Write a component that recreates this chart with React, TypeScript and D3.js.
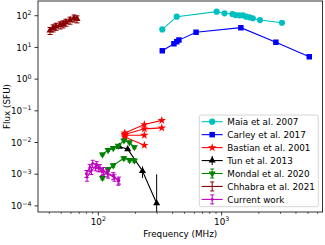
import React from 'react';
import * as d3 from 'd3';

// data
const maiaFreq = [330, 432, 910, 1054, 1221, 1297, 1396, 1485, 1581, 1681, 1787, 2044, 3078];
const maiaFlux = [37, 93, 134, 119, 113, 105, 103, 103, 93, 89, 83, 73, 60];

const carleyFreq = [330, 410, 432, 450, 620, 1430, 2750, 5130];
const carleyFlux = [7.9, 13, 15, 17, 30, 42, 14.5, 5.1];

const bastianFreq = [164, 236, 327];
const bastianA = [0.02, 0.037, 0.05];
const bastianB = [0.018, 0.027, 0.029];
const bastianC = [0.017, 0.017];
const bastianD = [0.015, 0.0082];

const tunFreq = [148, 173, 228, 297];
const tunFlux = [0.0074, 0.0062, 0.00126, 0.000121];
const tunErr = [0.0003, 0.0003, 0.0005, 0.00087];

const mondalFreq = [108, 120, 132, 145, 161, 179, 196];
const mondalHigh = [0.0042, 0.0058, 0.0067, 0.0078, 0.0116, 0.0101, 0.0071];
const mondalLowFreq = [108, 120, 132, 161, 179, 196];
const mondalLow = [0.00076, 0.00143, 0.0019, 0.0032, 0.0028, 0.0027];

const chhabraFreq = [40.6, 43, 45.4, 49, 51.8, 54.7, 59, 63.6, 67.2];
const chhabraFlux = [34, 41, 46, 51, 55, 62, 72, 84, 79];

const curFreqA = [80, 85, 90, 97, 103, 110, 118, 132, 145];
const curFluxA = [0.00105, 0.0016, 0.0022, 0.002, 0.0016, 0.0013, 0.0011, 0.0009, 0.0006];
const curFreqB = [81, 88, 95, 100, 107, 120, 135, 147];
const curFluxB = [0.0008, 0.0013, 0.0017, 0.0016, 0.0012, 0.001, 0.0008, 0.00065];

const xTicks = [100, 1000];
const yTicks = [1e-4, 1e-3, 1e-2, 1e-1, 1, 10, 100];

const legendNames = ['Maia et al. 2007', 'Carley et al. 2017', 'Bastian et al. 2001', 'Tun et al. 2013',
  'Mondal et al. 2020', 'Chhabra et al. 2021', 'Current work'];

const W = 325, H = 245;
const L = 38, R = 322.6, T = 1, B = 212;
const FONT = 'DejaVu Sans, sans-serif';

const x = d3.scaleLog().domain([Math.pow(10, 1.511), Math.pow(10, 3.818)]).range([L, R]);
const y = d3.scaleLog().domain([Math.pow(10, -4.192), Math.pow(10, 2.464)]).range([B, T]);

type Pt = [number, number];
const zip = (a: number[], b: number[]): Pt[] => a.map((v, i) => [v, b[i]]);
const line = d3.line<Pt>().x(d => x(d[0])).y(d => y(d[1]));

const sym = (type: d3.SymbolType, size: number) => d3.symbol().type(type).size(size)() as string;
const circle = sym(d3.symbolCircle, 30);
const square = sym(d3.symbolSquare, 30);
const star = sym(d3.symbolStar, 22);
const tri = sym(d3.symbolTriangle, 22);

const colors = ['#00bfbf', '#0000ff', '#ff0000', '#000000', '#008000', '#8b0000', '#bf00bf'];

function Marker({ kind, cx, cy, color }: { kind: string; cx: number; cy: number; color: string }) {
  if (kind === 'dot') return <circle cx={cx} cy={cy} r={1.3} fill={color} />;
  const d = kind === 'circle' ? circle : kind === 'square' ? square : kind === 'star' ? star : tri;
  const rot = kind === 'tridown' ? 180 : 0;
  return <path d={d} transform={`translate(${cx},${cy}) rotate(${rot})`} fill={color} />;
}

function ErrBar({ f, v, e, color, cap }: { f: number; v: number; e: number; color: string; cap: number }) {
  const lo = Math.max(v - e, 1e-9);
  const cx = x(f);
  return (
    <g stroke={color} strokeWidth={1}>
      <line x1={cx} x2={cx} y1={y(v + e)} y2={y(lo)} />
      {cap > 0 && <line x1={cx - cap} x2={cx + cap} y1={y(v + e)} y2={y(v + e)} />}
      {cap > 0 && <line x1={cx - cap} x2={cx + cap} y1={y(lo)} y2={y(lo)} />}
    </g>
  );
}

function Series({ pts, color, kind, err, cap = 0, width = 1.1 }: { pts: Pt[]; color: string; kind: string; err?: number[]; cap?: number; width?: number }) {
  return (
    <g>
      {err && pts.map((p, i) => <ErrBar key={'e' + i} f={p[0]} v={p[1]} e={err[i]} color={color} cap={cap} />)}
      <path d={line(pts) as string} fill="none" stroke={color} strokeWidth={width} />
      {pts.map((p, i) => <Marker key={i} kind={kind} cx={x(p[0])} cy={y(p[1])} color={color} />)}
    </g>
  );
}

function PowLabel({ v, xx, yy, anchor }: { v: number; xx: number; yy: number; anchor: string }) {
  const e = Math.round(Math.log10(v));
  const s = e < 0 ? '\u2212' + Math.abs(e) : String(e);
  return (
    <text x={xx} y={yy} textAnchor={anchor} fontSize={8.8} fontFamily={FONT} fill="#000">
      10<tspan dy={-3.6} fontSize={6.3}>{s}</tspan>
    </text>
  );
}

export default function App() {
  const minor: number[] = [];
  for (let k = 1; k <= 3; k++) for (let m = 2; m <= 9; m++) {
    const v = m * Math.pow(10, k);
    if (v > x.domain()[0] && v < x.domain()[1]) minor.push(v);
  }
  const bast = [bastianA, bastianB, bastianC, bastianD];
  const legKinds = ['circle', 'square', 'star', 'tri', 'tridown', 'none', 'dot'];
  const legErr = [false, false, false, true, true, true, true];
  const legCap = [0, 0, 0, 0, 2, 2, 2];
  const lx = 199.3, ly = 115, lw = 119, lh = 91.7;

  return (
    <svg width={W} height={H} style={{ position: 'absolute', left: 0, top: 0, background: '#fff' }}>
      <defs>
        <clipPath id="plot"><rect x={L} y={T} width={R - L} height={B - T} /></clipPath>
      </defs>
      <g clipPath="url(#plot)">
        <Series pts={zip(maiaFreq, maiaFlux)} color={colors[0]} kind="circle" />
        <Series pts={zip(carleyFreq, carleyFlux)} color={colors[1]} kind="square" />
        {bast.map((b, i) => <Series key={i} pts={zip(bastianFreq.slice(0, b.length), b)} color={colors[2]} kind="star" />)}
        <Series pts={zip(tunFreq, tunFlux)} color={colors[3]} kind="tri" err={tunErr} />
        <Series pts={zip(mondalFreq, mondalHigh)} color={colors[4]} kind="tridown" err={mondalHigh.map(v => v * 0.1)} cap={2} />
        <Series pts={zip(mondalLowFreq, mondalLow)} color={colors[4]} kind="tridown" err={mondalLow.map(v => v * 0.12)} cap={2} />
        <Series pts={zip(chhabraFreq, chhabraFlux)} color={colors[5]} kind="none" err={chhabraFlux.map(v => v * 0.25)} cap={2.5} width={1.8} />
        <Series pts={zip(curFreqA, curFluxA)} color={colors[6]} kind="dot" err={curFluxA.map(v => v * 0.25)} cap={2} />
        <Series pts={zip(curFreqB, curFluxB)} color={colors[6]} kind="dot" err={curFluxB.map(v => v * 0.25)} cap={2} />
      </g>

      <rect x={L} y={T} width={R - L} height={B - T} fill="none" stroke="#000" strokeWidth={0.8} />

      {yTicks.map(v => (
        <g key={v}>
          <line x1={L - 3.5} x2={L} y1={y(v)} y2={y(v)} stroke="#000" strokeWidth={0.8} />
          <PowLabel v={v} xx={31.5} yy={y(v) + 3.2} anchor="end" />
        </g>
      ))}
      {minor.map(v => <line key={v} x1={x(v)} x2={x(v)} y1={B} y2={B + 2} stroke="#000" strokeWidth={0.6} />)}
      {xTicks.map(v => (
        <g key={v}>
          <line x1={x(v)} x2={x(v)} y1={B} y2={B + 3.5} stroke="#000" strokeWidth={0.8} />
          <PowLabel v={v} xx={x(v)} yy={225} anchor="middle" />
        </g>
      ))}

      <text x={(L + R) / 2} y={236.5} textAnchor="middle" fontSize={8.8} fontFamily={FONT}>Frequency (MHz)</text>
      <text transform={`translate(9.5,${(T + B) / 2}) rotate(-90)`} textAnchor="middle" fontSize={8.8} fontFamily={FONT}>Flux (SFU)</text>

      <rect x={lx} y={ly} width={lw} height={lh} rx={2} fill="#fff" fillOpacity={0.8} stroke="#cccccc" strokeWidth={0.8} />
      {legendNames.map((n, i) => {
        const yy = 121.7 + i * 12.95;
        const c = colors[i];
        return (
          <g key={n}>
            {legErr[i] && (
              <g stroke={c} strokeWidth={1}>
                <line x1={212.2} x2={212.2} y1={yy - 4.5} y2={yy + 4.5} />
                {legCap[i] > 0 && <line x1={210.2} x2={214.2} y1={yy - 4.5} y2={yy - 4.5} />}
                {legCap[i] > 0 && <line x1={210.2} x2={214.2} y1={yy + 4.5} y2={yy + 4.5} />}
              </g>
            )}
            <line x1={201.7} x2={222.7} y1={yy} y2={yy} stroke={c} strokeWidth={1.1} />
            {legKinds[i] !== 'none' && <Marker kind={legKinds[i]} cx={212.2} cy={yy} color={c} />}
            <text x={227.3} y={yy + 3.2} fontSize={8.8} fontFamily={FONT}>{n}</text>
          </g>
        );
      })}
    </svg>
  );
}
